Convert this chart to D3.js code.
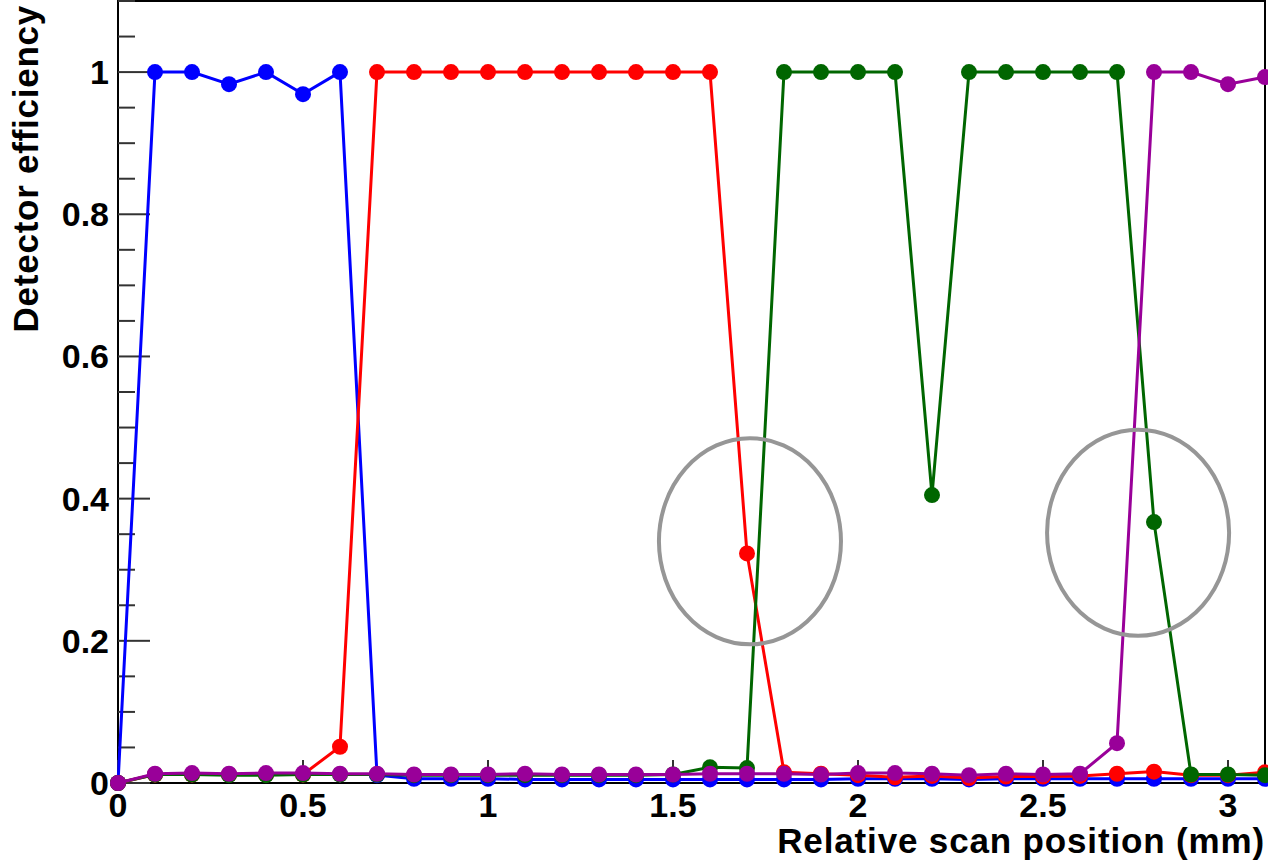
<!DOCTYPE html>
<html><head><meta charset="utf-8">
<script src="https://cdn.jsdelivr.net/npm/d3@7"></script>
<style>html,body{margin:0;padding:0;background:#fff;}svg{display:block;font-family:"Liberation Sans",Arial,sans-serif;font-weight:bold;}</style>
</head><body>
<svg id="chart" width="1268" height="865"></svg>
<script>
// Scan positions (mm)
const positions = [0,0.1,0.2,0.3,0.4,0.5,0.6,0.7,0.8,0.9,1.0,1.1,1.2,1.3,1.4,1.5,1.6,1.7,1.8,1.9,2.0,2.1,2.2,2.3,2.4,2.5,2.6,2.7,2.8,2.9,3.0,3.1];
// Detector efficiencies per channel
const blueEff   = [0,1,1,0.983,1,0.969,1,0.011,0.006,0.006,0.006,0.005,0.005,0.005,0.005,0.005,0.005,0.005,0.005,0.005,0.006,0.006,0.006,0.005,0.006,0.006,0.006,0.006,0.006,0.006,0.006,0.006];
const redEff    = [0,0.012,0.012,0.012,0.012,0.012,0.051,1,1,1,1,1,1,1,1,1,1,0.323,0.015,0.013,0.011,0.008,0.010,0.007,0.009,0.009,0.010,0.013,0.016,0.011,0.011,0.015];
const greenEff  = [0,0.012,0.012,0.011,0.011,0.012,0.012,0.012,0.011,0.011,0.011,0.011,0.011,0.011,0.011,0.012,0.022,0.021,1,1,1,1,0.405,1,1,1,1,1,0.367,0.012,0.012,0.011];
const purpleEff = [0,0.013,0.014,0.013,0.014,0.014,0.013,0.013,0.012,0.012,0.012,0.013,0.012,0.012,0.012,0.012,0.013,0.013,0.013,0.012,0.014,0.014,0.013,0.011,0.013,0.012,0.013,0.056,1,1,0.983,0.993];
const seriesNames  = ["blue","red","green","purple"];
const seriesColors = ["#0000ff","#ff0000","#006600","#990099"];
// Highlight ellipses (data coordinates): cx, cy, rx, ry
const ellipses = [
  {cx:1.708, cy:0.340, rx:0.246, ry:0.145},
  {cx:2.757, cy:0.352, rx:0.246, ry:0.145}
];
const xTicks = [0,0.5,1,1.5,2,2.5,3];
const xTickLabels = ["0","0.5","1","1.5","2","2.5","3"];
const yTicks = [0,0.2,0.4,0.6,0.8,1];
const yTickLabels = ["0","0.2","0.4","0.6","0.8","1"];
const xTitle = "Relative scan position (mm)";
const yTitle = "Detector efficiency";

const L=118, T=1, R=1265, B=783;
const svg = d3.select("#chart");
const x = d3.scaleLinear().domain([0,3.1]).range([L,R]);
const y = d3.scaleLinear().domain([0,1.1]).range([B,T]);

// frame
svg.append("rect").attr("x",L).attr("y",T).attr("width",R-L).attr("height",B-T)
  .attr("fill","none").attr("stroke","#000").attr("stroke-width",2);

// y ticks
const yMinor = d3.range(0,1.1001,0.05);
svg.append("g").selectAll("line").data(yMinor).join("line")
  .attr("x1",L).attr("x2",d=> (Math.abs(d/0.2-Math.round(d/0.2))<1e-6)? L+32 : L+17)
  .attr("y1",d=>y(d)).attr("y2",d=>y(d)).attr("stroke","#333").attr("stroke-width",2);
svg.append("g").selectAll("text").data(yTicks).join("text")
  .attr("x",109).attr("y",d=>y(d)+12).attr("text-anchor","end")
  .attr("font-size",34).text((d,i)=>yTickLabels[i]);

// x ticks
const xMinor = d3.range(0,3.1001,0.1);
svg.append("g").selectAll("line").data(xMinor).join("line")
  .attr("x1",d=>x(d)).attr("x2",d=>x(d)).attr("y1",B)
  .attr("y2",d=> (Math.abs(d/0.5-Math.round(d/0.5))<1e-6)? B-23 : B-12)
  .attr("stroke","#333").attr("stroke-width",2);
svg.append("g").selectAll("text").data(xTicks).join("text")
  .attr("x",d=>x(d)).attr("y",817).attr("text-anchor","middle")
  .attr("font-size",34).text((d,i)=>xTickLabels[i]);

// titles
svg.append("text").attr("x",R).attr("y",853).attr("text-anchor","end")
  .attr("font-size",35).attr("letter-spacing","0.85px").text(xTitle);
svg.append("text").attr("transform","translate(38,5) rotate(-90)").attr("text-anchor","end")
  .attr("font-size",35).attr("letter-spacing","0.75px").text(yTitle);

// series
const allSeries = [blueEff, redEff, greenEff, purpleEff];
const line = d3.line().x((d,i)=>x(positions[i])).y(d=>y(d));
allSeries.forEach((vals,si)=>{
  const g = svg.append("g");
  g.append("path").datum(vals).attr("d",line).attr("fill","none")
    .attr("stroke",seriesColors[si]).attr("stroke-width",3);
  g.selectAll("circle").data(vals).join("circle")
    .attr("cx",(d,i)=>x(positions[i])).attr("cy",d=>y(d)).attr("r",8)
    .attr("fill",seriesColors[si]);
});

// ellipses
svg.append("g").selectAll("ellipse").data(ellipses).join("ellipse")
  .attr("cx",d=>x(d.cx)).attr("cy",d=>y(d.cy))
  .attr("rx",d=>x(d.rx)-x(0)).attr("ry",d=>y(0)-y(d.ry))
  .attr("fill","none").attr("stroke","#969696").attr("stroke-width",4);
</script>
</body></html>
